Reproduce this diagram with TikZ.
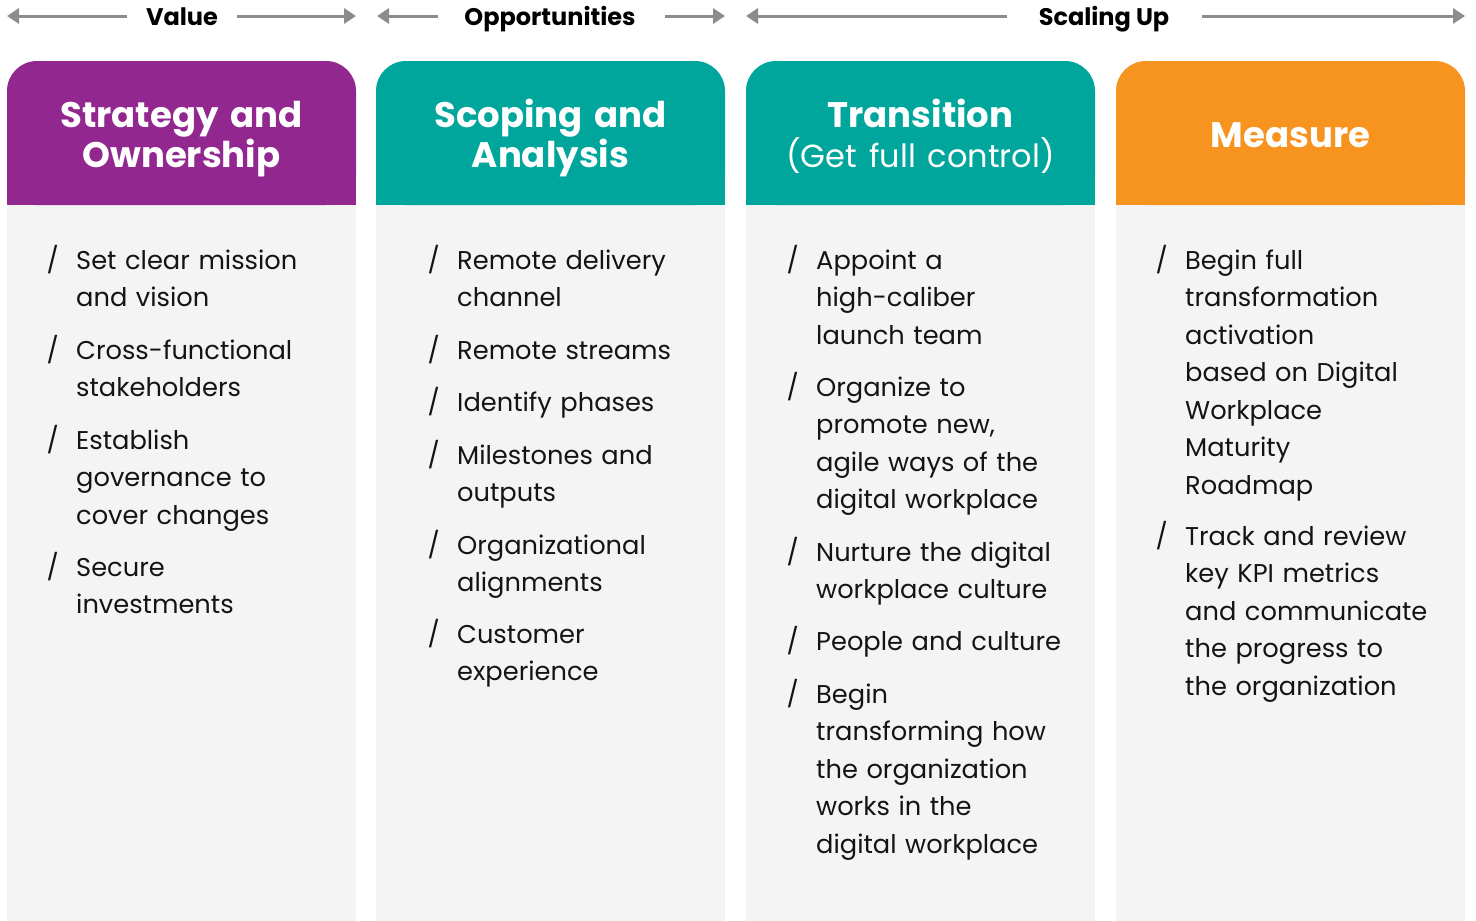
\documentclass[tikz,border=0pt]{standalone}
\usepackage{fontspec}
\setmainfont{Poppins}
\usetikzlibrary{arrows.meta}

\definecolor{cpurple}{HTML}{91278F}
\definecolor{cteal}{HTML}{00A69C}
\definecolor{corange}{HTML}{F7941F}
\definecolor{cbody}{HTML}{F4F4F4}
\definecolor{carrow}{HTML}{8C8C8C}
\definecolor{ctext}{HTML}{141414}

\tikzset{
  phase/.style={font=\fontsize{24}{28}\selectfont\bfseries, text=black,
    text height=18pt, text depth=0pt, inner sep=0pt},
  span/.style={draw=carrow, line width=3pt,
    -{Triangle[length=12pt,width=15pt]}},
  head/.style={rounded corners=30pt, minimum width=349pt,
    minimum height=144pt, inner sep=0pt},
  panel/.style={fill=cbody, minimum width=349pt, minimum height=716pt,
    inner sep=0pt, anchor=north},
  title/.style={font=\fontsize{35.5}{40}\selectfont\bfseries, text=white,
    align=center, text width=340pt, inner sep=0pt, anchor=base},
  itemtext/.style={font=\fontsize{25.7}{37.5}\selectfont, text=ctext,
    align=left, text width=300pt, inner sep=0pt},
  slash/.style={font=\fontsize{25.7}{37.5}\selectfont, text=ctext,
    inner sep=0pt},
}

% one bullet point: name, x of text, first baseline, text
\newcommand\entry[4]{%
  \node[itemtext, anchor=base west] (#1) at (#2,#3) {#4};
  \node[slash, anchor=base east] (#1s) at ([xshift=-17pt]#1.base west) {/};}

\begin{document}
\begin{tikzpicture}[x=1pt, y=-1pt]
\useasboundingbox (0,0) rectangle (1476,921);

% ---- phase spans along the top
\node[phase] (val) at (182,16) {Value};
\coordinate (valL) at (7,16);   \coordinate (valLi) at (127,16);
\coordinate (valR) at (356,16); \coordinate (valRi) at (237,16);
\draw[span] (valLi) -- (valL);
\draw[span] (valRi) -- (valR);

\node[phase] (opp) at (550,16) {Opportunities};
\coordinate (oppL) at (377,16); \coordinate (oppLi) at (438,16);
\coordinate (oppR) at (725,16); \coordinate (oppRi) at (665,16);
\draw[span] (oppLi) -- (oppL);
\draw[span] (oppRi) -- (oppR);

\node[phase] (scl) at (1104,16) {Scaling Up};
\coordinate (sclL) at (746,16);  \coordinate (sclLi) at (1007,16);
\coordinate (sclR) at (1465,16); \coordinate (sclRi) at (1202,16);
\draw[span] (sclLi) -- (sclL);
\draw[span] (sclRi) -- (sclR);

% ---- column panels and headers
\foreach \n/\cx/\col in {1/181.5/cpurple, 2/550.5/cteal, 3/920.5/cteal, 4/1290.5/corange}{
  \node[panel] (p\n) at (\cx,205) {};
  \node[head, fill=\col] (h\n) at (\cx,133) {};
  \fill[\col] (h\n.west) rectangle (h\n.south east);
}

\node[title] (t1) at (181.5,127) {Strategy and\\Ownership};
\node[title] (t2) at (550.5,127) {Scoping and\\Analysis};
\node[title] (t3) at (920.5,127) {Transition\\{\fontsize{32}{40}\selectfont\mdseries (Get full control)}};
\node[title] (t4) at (1290.5,147) {Measure};

% ---- column 1
\entry{a1}{76}{269}{Set clear mission\\and vision}
\entry{a2}{76}{359}{Cross-functional\\stakeholders}
\entry{a3}{76}{449}{Establish\\governance to\\cover changes}
\entry{a4}{76}{576}{Secure\\investments}

% ---- column 2
\entry{b1}{457}{269}{Remote delivery\\channel}
\entry{b2}{457}{359}{Remote streams}
\entry{b3}{457}{411}{Identify phases}
\entry{b4}{457}{464}{Milestones and\\outputs}
\entry{b5}{457}{554}{Organizational\\alignments}
\entry{b6}{457}{643}{Customer\\experience}

% ---- column 3
\entry{c1}{816}{269}{Appoint a\\high-caliber\\launch team}
\entry{c2}{816}{396}{Organize to\\promote new,\\agile ways of the\\digital workplace}
\entry{c3}{816}{561}{Nurture the digital\\workplace culture}
\entry{c4}{816}{650}{People and culture}
\entry{c5}{816}{703}{Begin\\transforming how\\the organization\\works in the\\digital workplace}

% ---- column 4
\entry{d1}{1185}{269}{Begin full\\transformation\\activation\\based on Digital\\Workplace\\Maturity\\Roadmap}
\entry{d2}{1185}{545}{Track and review\\key KPI metrics\\and communicate\\the progress to\\the organization}
\end{tikzpicture}
\end{document}
